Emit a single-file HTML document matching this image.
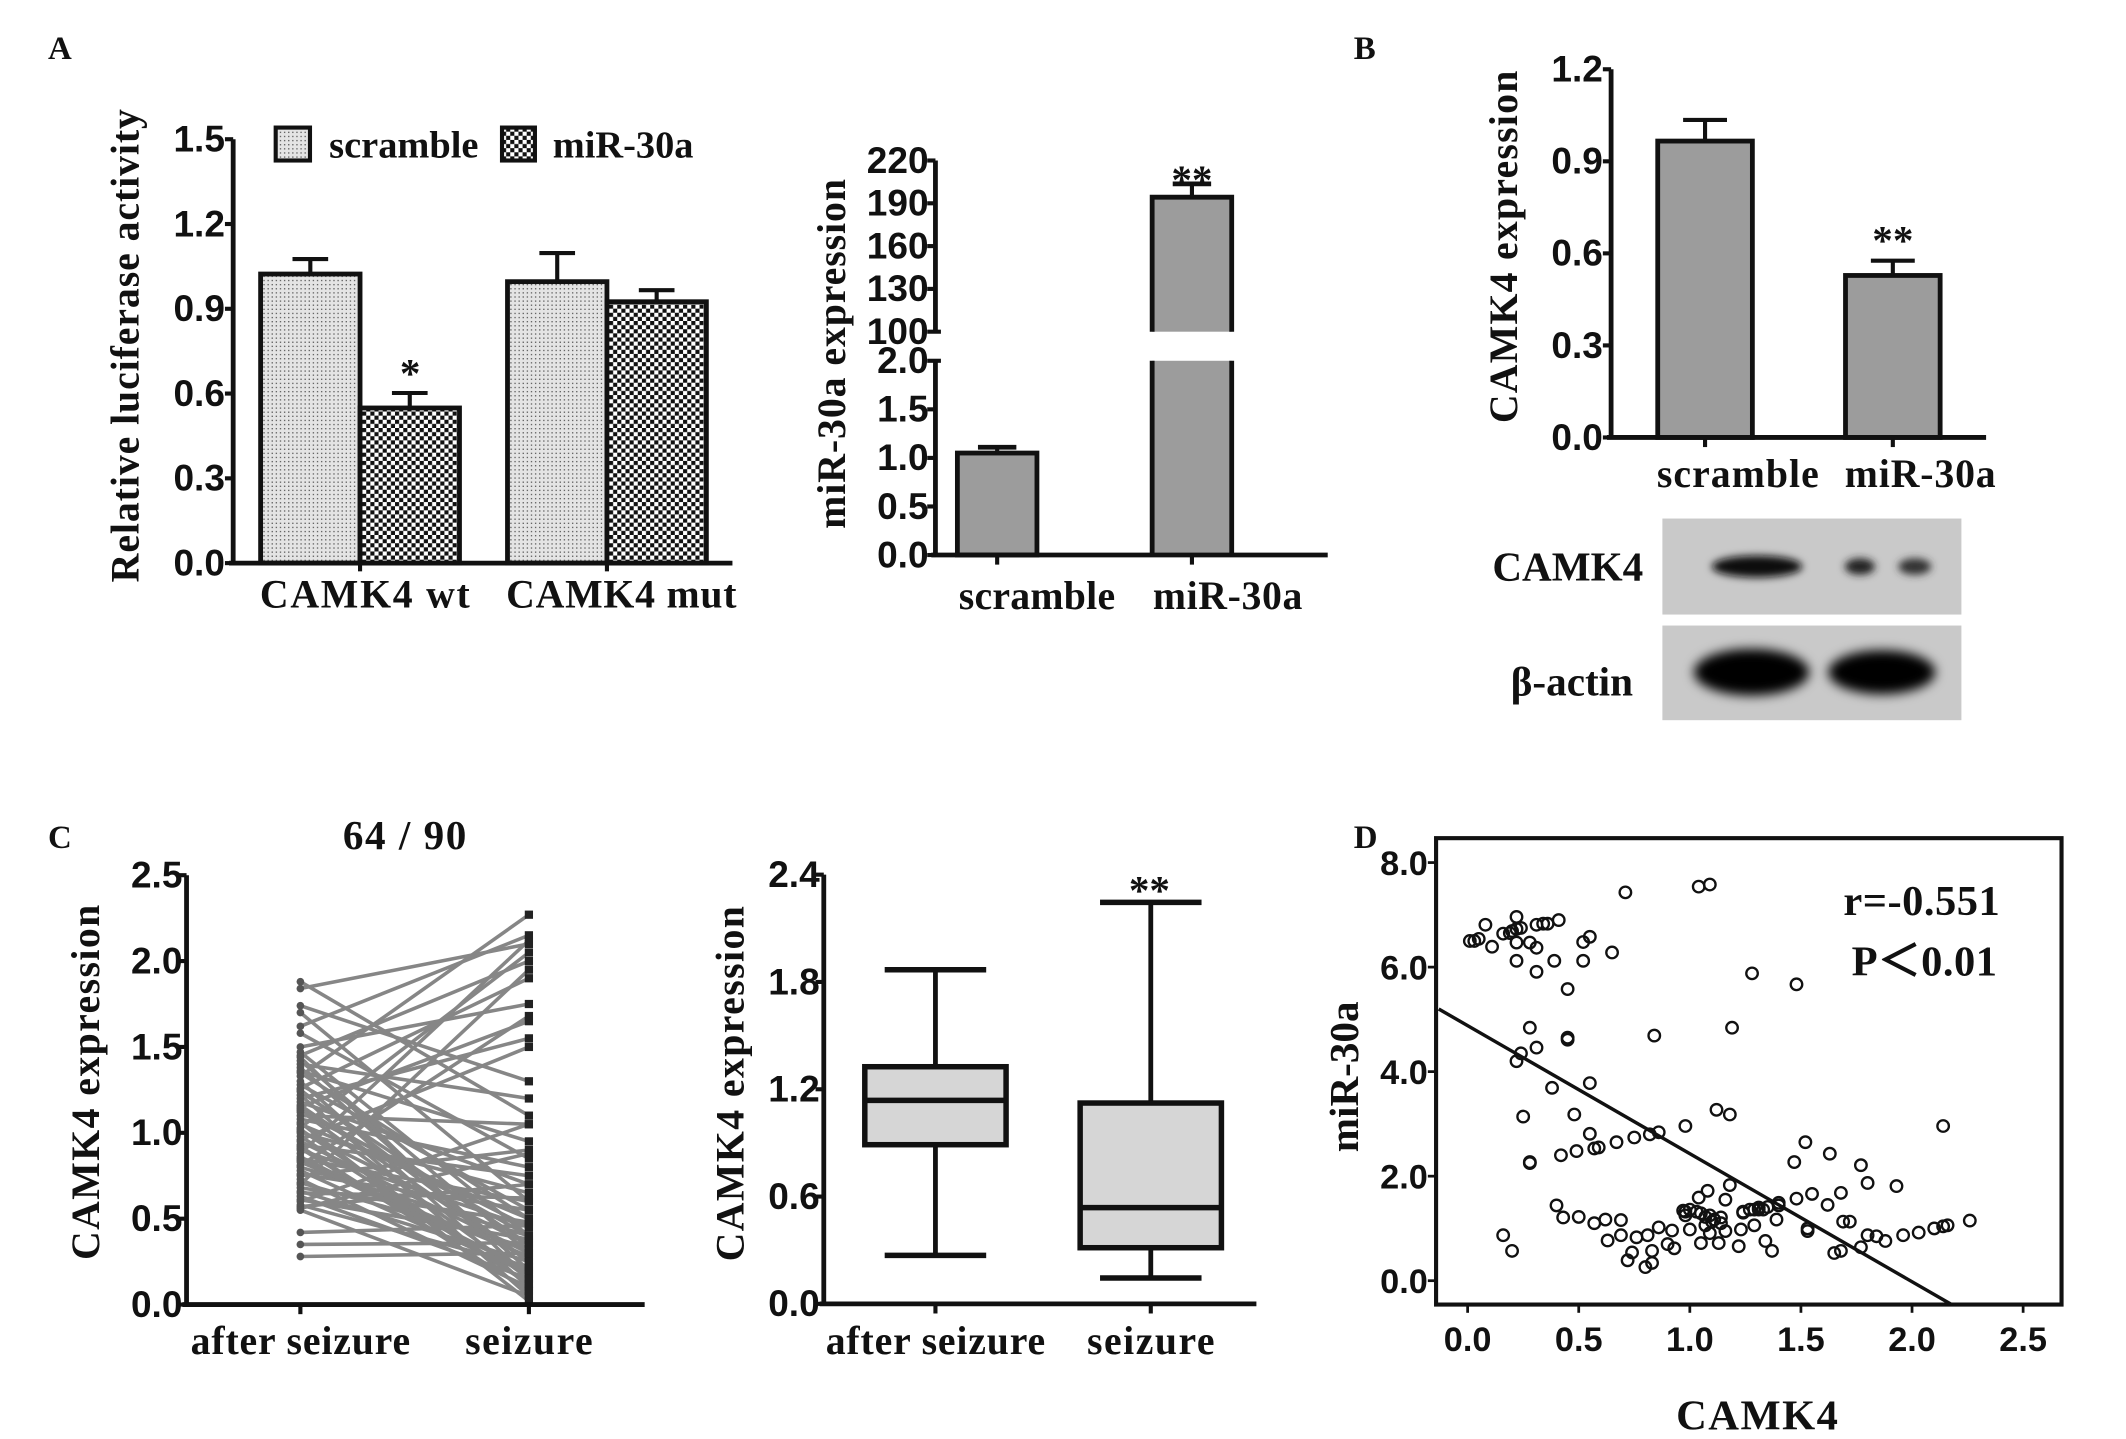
<!DOCTYPE html>
<html><head><meta charset="utf-8"><style>
html,body{margin:0;padding:0;background:#fff;}
svg{display:block;}
.t{font-family:"Liberation Sans",Arial,sans-serif;font-weight:bold;fill:#111;}
.s{font-family:"Liberation Serif","Times New Roman",serif;font-weight:bold;fill:#111;}
</style></head><body>
<svg id="fig" width="2126" height="1439" viewBox="0 0 1550 1049" preserveAspectRatio="none" xmlns="http://www.w3.org/2000/svg">
<defs>
<pattern id="dots" width="3" height="3" patternUnits="userSpaceOnUse"><rect width="3" height="3" fill="#e4e4e4"/><rect width="1" height="1" fill="#666"/></pattern>
<pattern id="check" width="6" height="6" patternUnits="userSpaceOnUse"><rect width="6" height="6" fill="#fff"/><rect width="3" height="3" fill="#111"/><rect x="3" y="3" width="3" height="3" fill="#111"/></pattern>
<filter id="blur" x="-30%" y="-50%" width="160%" height="200%"><feGaussianBlur stdDeviation="3"/></filter>
<filter id="blur2" x="-30%" y="-50%" width="160%" height="200%"><feGaussianBlur stdDeviation="4"/></filter>
</defs>
<rect width="1550" height="1049" fill="#fff"/>
<text class="s" x="35" y="43" font-size="24">A</text>
<text class="s" x="987" y="43" font-size="24">B</text>
<text class="s" x="35" y="618" font-size="24">C</text>
<text class="s" x="987" y="618" font-size="24">D</text>
<g id="pa1"></g>
<g id="pa2"></g>
<g id="pb"></g>
<g id="blot"></g>
<g id="pc1"></g>
<g id="pc2"></g>
<g id="pd"></g>
</svg>
<script>
// ---------- data ----------
const aCats = ["CAMK4 wt", "CAMK4 mut"];
const aScramble = [1.023, 0.996];
const aScrambleErr = [0.053, 0.101];
const aMir = [0.549, 0.925];
const aMirErr = [0.053, 0.041];
const aTicks = [0, 0.3, 0.6, 0.9, 1.2, 1.5];

const a2Cats = ["scramble", "miR-30a"];
const a2Vals = [1.05, 194.3];
const a2Err = [0.06, 9.3];
const a2LowTicks = [0, 0.5, 1.0, 1.5, 2.0];
const a2HighTicks = [100, 130, 160, 190, 220];

const bCats = ["scramble", "miR-30a"];
const bVals = [0.966, 0.528];
const bErr = [0.069, 0.048];
const bTicks = [0, 0.3, 0.6, 0.9, 1.2];

const cAfter = [1.88,1.84,1.74,1.70,1.62,1.58,1.50,1.47,1.45,1.42,
1.40,1.38,1.36,1.33,1.30,1.28,1.26,1.24,1.22,1.20,
1.18,1.16,1.15,1.13,1.12,1.10,1.08,1.06,1.05,1.03,
1.01,1.00,0.98,0.96,0.95,0.93,0.91,0.90,0.88,0.86,
0.85,0.83,0.81,0.80,0.78,0.76,0.75,0.73,0.71,0.70,
0.68,0.66,0.65,0.63,0.61,0.60,0.58,0.57,0.56,0.55,
0.42,0.35,0.28,1.44,1.35,1.25,1.14,1.02,0.92,0.84];
const cSeizure = [1.10,2.10,1.30,0.60,2.15,0.85,1.75,0.40,2.00,0.30,
1.20,0.20,0.95,2.27,0.10,0.55,1.90,0.35,0.05,1.55,
0.70,0.25,1.65,0.15,0.45,1.05,0.80,0.02,0.50,2.05,
0.35,0.65,0.12,1.50,0.30,0.75,0.08,0.45,2.12,0.20,
0.60,0.28,1.68,0.40,0.18,0.55,0.90,0.10,0.33,1.95,
0.48,0.25,0.62,0.15,0.38,1.05,0.22,0.70,0.88,0.05,
0.46,0.36,0.30,0.15,0.50,0.25,0.40,0.12,0.08,0.20];
const cTicks = [0, 0.5, 1.0, 1.5, 2.0, 2.5];

const boxCats = ["after seizure", "seizure"];
const boxMin = [0.271, 0.145];
const boxQ1 = [0.890, 0.314];
const boxMed = [1.138, 0.538];
const boxQ3 = [1.326, 1.123];
const boxMax = [1.868, 2.245];
const boxTicks = [0, 0.6, 1.2, 1.8, 2.4];

const dX = [0.01,0.03,0.05,0.08,0.11,0.16,0.19,0.20,0.22,0.22,0.24,0.22,0.22,0.28,0.31,0.31,0.34,0.36,0.41,0.31,0.39,0.45,0.52,0.55,0.52,0.65,0.71,1.04,1.09,1.28,1.48,
0.28,0.24,0.22,0.31,0.45,0.45,0.84,1.19,0.38,0.55,0.25,0.48,0.28,0.28,0.42,0.49,0.55,0.57,0.59,0.67,0.75,0.82,0.86,0.98,1.12,1.18,2.14,1.47,1.52,1.63,1.77,1.80,1.93,1.68,1.55,1.48,1.62,
0.16,0.20,0.40,0.43,0.50,0.57,0.62,0.63,0.69,0.69,0.76,0.72,0.74,0.80,0.83,0.83,0.81,0.86,0.90,0.93,0.92,0.97,1.00,1.04,1.08,1.05,1.07,1.09,1.13,1.16,1.18,1.16,1.22,1.23,1.24,1.29,1.34,1.37,1.31,1.40,1.39,1.53,1.53,1.65,1.68,1.69,1.72,1.77,1.80,1.84,1.88,1.96,2.03,2.10,2.14,2.16,2.26,
0.98,0.98,1.00,1.05,1.09,1.11,1.14,1.10,1.07,1.03,1.24,1.27,1.29,1.31,1.33,1.35,1.40,1.14];
const dY = [6.50,6.50,6.54,6.81,6.39,6.64,6.65,6.69,6.96,6.73,6.75,6.47,6.12,6.47,6.37,6.81,6.83,6.83,6.90,5.91,6.12,5.58,6.48,6.58,6.12,6.28,7.43,7.54,7.58,5.88,5.67,
4.84,4.35,4.20,4.46,4.65,4.61,4.69,4.84,3.69,3.78,3.14,3.18,2.27,2.25,2.40,2.48,2.81,2.53,2.55,2.65,2.74,2.80,2.84,2.96,3.27,3.18,2.96,2.27,2.65,2.43,2.21,1.87,1.81,1.68,1.66,1.57,1.45,
0.87,0.57,1.44,1.21,1.22,1.10,1.17,0.77,1.16,0.87,0.83,0.39,0.54,0.26,0.34,0.57,0.87,1.02,0.70,0.62,0.96,1.34,0.98,1.59,1.72,0.72,1.22,0.91,0.72,0.95,1.83,1.55,0.66,0.98,1.30,1.06,0.76,0.57,1.36,1.44,1.17,0.95,1.00,0.53,0.57,1.13,1.13,0.64,0.87,0.85,0.76,0.87,0.92,1.00,1.04,1.06,1.15,
1.32,1.25,1.36,1.29,1.25,1.17,1.21,1.13,1.06,1.32,1.32,1.36,1.36,1.40,1.36,1.41,1.49,1.10];
const dTicksX = [0, 0.5, 1.0, 1.5, 2.0, 2.5];
const dTicksY = [0, 2, 4, 6, 8];
const dReg = [4.88, -2.45];
const dStats = ["r=-0.551", "P\uFF1C0.01"];

// ---------- helpers ----------
const NS = "http://www.w3.org/2000/svg";
const TICK = 27, XL = 29, TITLE = 29;
function mk(tag, parent, attrs) {
  const e = document.createElementNS(NS, tag);
  for (const k in attrs) e.setAttribute(k, attrs[k]);
  parent.appendChild(e);
  return e;
}
function line(p, x1, y1, x2, y2, w, c) {
  return mk("line", p, {x1: x1, y1: y1, x2: x2, y2: y2, stroke: c || "#111", "stroke-width": w || 3});
}
function txt(p, x, y, s, cls, size, anchor) {
  const e = mk("text", p, {x: x, y: y, class: cls, "font-size": size, "text-anchor": anchor || "middle"});
  e.textContent = s;
  return e;
}
function fmt(v, d) { return v.toFixed(d); }

// ---------- Panel A left ----------
(function () {
  const g = document.getElementById("pa1");
  const X0 = 170, Y0 = 410.5, Y1 = 101.5;
  const y = v => Y0 - v / 1.5 * (Y0 - Y1);
  const groupX = [190, 370], bw = 72.5;
  const labelX = [266, 453];
  aCats.forEach((c, i) => {
    const bars = [[aScramble[i], aScrambleErr[i], "url(#dots)", "scramble"], [aMir[i], aMirErr[i], "url(#check)", "mir30a"]];
    bars.forEach((b, j) => {
      const x = groupX[i] + j * bw;
      const r = mk("rect", g, {x: x, y: y(b[0]), width: bw, height: Y0 - y(b[0]), fill: b[2], stroke: "#111", "stroke-width": 3.5});
      
      
      const e1 = line(g, x + bw / 2, y(b[0]), x + bw / 2, y(b[0] + b[1]), 3);
      
      
      const e2 = line(g, x + bw / 2 - 13, y(b[0] + b[1]), x + bw / 2 + 13, y(b[0] + b[1]), 3);
      
      
    });
    const lbl = txt(g, labelX[i], 443, c, "s", XL);
    lbl.setAttribute("textLength", i ? 168 : 153);
    
    
    const tk = line(g, groupX[i] + bw, Y0, groupX[i] + bw, Y0 + 6, 3);
    
    
  });
  const ax = line(g, X0, Y0, X0, Y1, 3.5);
  
  
  const xa = line(g, X0 - 3, Y0, 534, Y0, 3.5);
  
  
  aTicks.forEach(v => {
    const t = line(g, X0 - 6, y(v), X0, y(v), 3);
    
    
    const l = txt(g, X0 - 6, y(v) + 9, fmt(v, 1), "t", TICK, "end");
    
    
  });
  const star = txt(g, 299, 282, "*", "s", 30);
  
  
  const yt = txt(g, 0, 0, "Relative luciferase activity", "s", TITLE);
  yt.setAttribute("transform", "translate(101,252) rotate(-90)");
  yt.setAttribute("textLength", "345");
  
  
  const lg1 = mk("rect", g, {x: 201, y: 93, width: 25, height: 24, fill: "url(#dots)", stroke: "#111", "stroke-width": 3});
  
  
  const lt1 = txt(g, 240, 115, "scramble", "s", 28, "start");
  
  
  const lg2 = mk("rect", g, {x: 366, y: 93, width: 24, height: 24, fill: "url(#check)", stroke: "#111", "stroke-width": 3});
  
  
  const lt2 = txt(g, 403, 115, "miR-30a", "s", 28, "start");
  
  
})();

// ---------- Panel A right (broken axis) ----------
(function () {
  const g = document.getElementById("pa2");
  const X0 = 682, L0 = 404.6, L1 = 263, H0 = 241.8, H1 = 117;
  const yl = v => L0 - v / 2 * (L0 - L1);
  const yh = v => H0 - (v - 100) / 120 * (H0 - H1);
  const ys = v => v <= 2 ? yl(v) : yh(v);
  const bx = [698, 840], bw = 58;
  a2Cats.forEach((c, i) => {
    const v = a2Vals[i];
    if (v <= 2) {
      const r = mk("rect", g, {x: bx[i], y: yl(v), width: bw, height: L0 - yl(v), fill: "#9c9c9c", stroke: "#111", "stroke-width": 3.5});
      
      
    } else {
      const r1 = mk("rect", g, {x: bx[i], y: L1, width: bw, height: L0 - L1, fill: "#9c9c9c", stroke: "none"});
      
      
      const p1 = mk("path", g, {d: `M${bx[i]},${L0}V${L1}M${bx[i] + bw},${L0}V${L1}`, stroke: "#111", "stroke-width": 3.5, fill: "none"});
      
      
      const r2 = mk("rect", g, {x: bx[i], y: yh(v), width: bw, height: H0 - yh(v), fill: "#9c9c9c", stroke: "none"});
      
      
      const p2 = mk("path", g, {d: `M${bx[i]},${H0}V${yh(v)}H${bx[i] + bw}V${H0}`, stroke: "#111", "stroke-width": 3.5, fill: "none"});
      
      
    }
    const cx = bx[i] + bw / 2;
    const e1 = line(g, cx, ys(v), cx, ys(v + a2Err[i]), 3);
    
    
    const e2 = line(g, cx - 14, ys(v + a2Err[i]), cx + 14, ys(v + a2Err[i]), 3.5);
    
    
    const l = txt(g, [756, 895][i], 444, c, "s", XL);
    l.setAttribute("textLength", i ? 109 : 114);
    
    
    const tk = line(g, cx, L0, cx, L0 + 7, 3);
    
    
  });
  const a1 = line(g, X0, L0, X0, L1, 3.5);
  
  
  const a2 = line(g, X0, H0, X0, H1, 3.5);
  
  
  const xa = line(g, X0 - 3, L0, 968, L0, 3.5);
  
  
  a2LowTicks.forEach(v => {
    const t = line(g, X0 - 6, yl(v), X0 + (v === 2 ? 4 : 0), yl(v), 3);
    
    
    const l = txt(g, X0 - 5, yl(v) + 9, fmt(v, 1), "t", TICK, "end");
    
    
  });
  a2HighTicks.forEach(v => {
    const t = line(g, X0 - 6, yh(v), X0 + (v === 100 ? 4 : 0), yh(v), 3);
    
    
    const l = txt(g, X0 - 5, yh(v) + 9, String(v), "t", TICK, "end");
    
    
  });
  const st = txt(g, 869, 141, "**", "s", 30);
  
  
  const yt = txt(g, 0, 0, "miR-30a expression", "s", TITLE);
  yt.setAttribute("transform", "translate(616,258) rotate(-90)");
  yt.setAttribute("textLength", "255");
  
  
})();

// ---------- Panel B ----------
(function () {
  const g = document.getElementById("pb");
  const X0 = 1174.6, Y0 = 318.9, Y1 = 50.5;
  const y = v => Y0 - v / 1.2 * (Y0 - Y1);
  const bx = [1208.6, 1345.5], bw = 69;
  bCats.forEach((c, i) => {
    const r = mk("rect", g, {x: bx[i], y: y(bVals[i]), width: bw, height: Y0 - y(bVals[i]), fill: "#9c9c9c", stroke: "#111", "stroke-width": 3.5});
    
    
    const cx = bx[i] + bw / 2;
    const e1 = line(g, cx, y(bVals[i]), cx, y(bVals[i] + bErr[i]), 3);
    
    
    const e2 = line(g, cx - 16, y(bVals[i] + bErr[i]), cx + 16, y(bVals[i] + bErr[i]), 3);
    
    
    const l = txt(g, [1267, 1400][i], 355, c, "s", XL);
    l.setAttribute("textLength", i ? 110 : 118);
    
    
    const tk = line(g, cx, Y0, cx, Y0 + 7, 3);
    
    
  });
  const ax = line(g, X0, Y0, X0, Y1, 3.5);
  
  
  const xa = line(g, X0 - 3, Y0, 1448, Y0, 3.5);
  
  
  bTicks.forEach(v => {
    const t = line(g, X0 - 6, y(v), X0, y(v), 3);
    
    
    const l = txt(g, X0 - 6, y(v) + 9, fmt(v, 1), "t", TICK, "end");
    
    
  });
  const st = txt(g, 1380, 185, "**", "s", 30);
  
  
  const yt = txt(g, 0, 0, "CAMK4 expression", "s", TITLE);
  yt.setAttribute("transform", "translate(1106,180) rotate(-90)");
  yt.setAttribute("textLength", "257");
  
  
})();

// ---------- Western blot ----------
(function () {
  const g = document.getElementById("blot");
  const b1 = mk("rect", g, {x: 1212, y: 378, width: 218, height: 70, fill: "#c9c9c9"});
  
  
  const b2 = mk("rect", g, {x: 1212, y: 456, width: 218, height: 69, fill: "#c9c9c9"});
  
  
  const bands = [[1281, 413, 33, 8, "#111", "blur"], [1356, 413, 11, 6, "#222", "blur"], [1396, 413, 12, 6, "#333", "blur"],
                 [1277, 490, 42, 17, "#050505", "blur2"], [1372, 490, 39, 16, "#050505", "blur2"]];
  bands.forEach((b, i) => {
    const e = mk("ellipse", g, {cx: b[0], cy: b[1], rx: b[2], ry: b[3], fill: b[4], filter: "url(#" + b[5] + ")"});
    
    
  });
  const l1 = txt(g, 1143, 423, "CAMK4", "s", 30);
  
  
  const l2 = txt(g, 1146, 507, "\u03B2-actin", "s", 30);
  
  
})();

// ---------- Panel C left (paired lines) ----------
(function () {
  const g = document.getElementById("pc1");
  const X0 = 136, Y0 = 951, Y1 = 638;
  const y = v => Y0 - v / 2.5 * (Y0 - Y1);
  const xA = 219, xS = 385.6;
  const n = Math.min(cAfter.length, cSeizure.length);
  for (let i = 0; i < n; i++) {
    const l = line(g, xA, y(cAfter[i]), xS, y(cSeizure[i]), 2.6, "#868686");
    
    
  }
  for (let i = 0; i < n; i++) {
    const d = mk("circle", g, {cx: xA, cy: y(cAfter[i]), r: 2.8, fill: "#555"});
    
    
    const s = mk("rect", g, {x: xS - 3, y: y(cSeizure[i]) - 3, width: 6, height: 6, fill: "#222"});
    
    
  }
  const ax = line(g, X0, Y0, X0, Y1, 3.5);
  
  
  const xa = line(g, X0 - 3, Y0, 470, Y0, 3.5);
  
  
  cTicks.forEach(v => {
    const t = line(g, X0 - 6, y(v), X0, y(v), 3);
    
    
    const l = txt(g, X0 - 3, y(v) + 9, fmt(v, 1), "t", TICK, "end");
    
    
  });
  boxCats.forEach((c, i) => {
    const cx = [xA, xS][i];
    const tk = line(g, cx, Y0, cx, Y0 + 7, 3);
    
    
    const l = txt(g, cx, 987, c, "s", XL);
    l.setAttribute("textLength", i ? 93 : 160);
    
    
  });
  const ti = txt(g, 295, 619, "64 / 90", "s", 30);
  ti.setAttribute("textLength", "90");
  
  
  const yt = txt(g, 0, 0, "CAMK4 expression", "s", TITLE);
  yt.setAttribute("transform", "translate(72,789) rotate(-90)");
  yt.setAttribute("textLength", "259");
  
  
})();

// ---------- Panel C right (box plot) ----------
(function () {
  const g = document.getElementById("pc2");
  const X0 = 600.6, Y0 = 950.5, Y1 = 637.6;
  const y = v => Y0 - v / 2.4 * (Y0 - Y1);
  const cxs = [682, 839], bw = 103;
  boxCats.forEach((c, i) => {
    const cx = cxs[i];
    const w1 = line(g, cx, y(boxMax[i]), cx, y(boxQ3[i]), 3.5);
    
    
    const w2 = line(g, cx, y(boxQ1[i]), cx, y(boxMin[i]), 3.5);
    
    
    const c1 = line(g, cx - 37, y(boxMax[i]), cx + 37, y(boxMax[i]), 4);
    
    
    const c2 = line(g, cx - 37, y(boxMin[i]), cx + 37, y(boxMin[i]), 4);
    
    
    const b = mk("rect", g, {x: cx - bw / 2, y: y(boxQ3[i]), width: bw, height: y(boxQ1[i]) - y(boxQ3[i]), fill: "#d6d6d6", stroke: "#111", "stroke-width": 4});
    
    
    const m = line(g, cx - bw / 2, y(boxMed[i]), cx + bw / 2, y(boxMed[i]), 4);
    
    
    const tk = line(g, cx, Y0, cx, Y0 + 7, 3);
    
    
    const l = txt(g, cx, 987, c, "s", XL);
    l.setAttribute("textLength", i ? 93 : 160);
    
    
  });
  const ax = line(g, X0, Y0, X0, Y1, 3.5);
  
  
  const xa = line(g, X0 - 3, Y0, 916, Y0, 3.5);
  
  
  boxTicks.forEach(v => {
    const t = line(g, X0 - 6, y(v), X0, y(v), 3);
    
    
    const l = txt(g, X0 - 3, y(v) + 9, fmt(v, 1), "t", TICK, "end");
    
    
  });
  const st = txt(g, 838, 659, "**", "s", 30);
  
  
  const yt = txt(g, 0, 0, "CAMK4 expression", "s", TITLE);
  yt.setAttribute("transform", "translate(542,790) rotate(-90)");
  yt.setAttribute("textLength", "259");
  
  
})();

// ---------- Panel D (scatter) ----------
(function () {
  const g = document.getElementById("pd");
  const FX0 = 1047, FX1 = 1503, FY0 = 611, FY1 = 951;
  const x = v => 1070 + v * 162;
  const y = v => 933.6 - v * 38.1;
  const fr = mk("rect", g, {x: FX0, y: FY0, width: FX1 - FX0, height: FY1 - FY0, fill: "none", stroke: "#111", "stroke-width": 3});
  
  
  dTicksX.forEach(v => {
    const t = line(g, x(v), FY1, x(v), FY1 + 6, 2);
    
    
    const l = txt(g, x(v), 985, fmt(v, 1), "t", 25);
    
    
  });
  dTicksY.forEach(v => {
    const t = line(g, FX0 - 6, y(v), FX0, y(v), 2);
    
    
    const l = txt(g, FX0 - 6, y(v) + 9, fmt(v, 1), "t", 25, "end");
    
    
  });
  const xs = -0.13, xe = 2.18;
  const rl = line(g, x(xs), y(dReg[0] + dReg[1] * xs), x(xe), y(dReg[0] + dReg[1] * xe), 2.5);
  
  
  const n = Math.min(dX.length, dY.length);
  for (let i = 0; i < n; i++) {
    const c = mk("circle", g, {cx: x(dX[i]), cy: y(dY[i]), r: 4.2, fill: "none", stroke: "#111", "stroke-width": 1.7});
    
    
  }
  const s1 = txt(g, 1401, 667, dStats[0], "s", 31);
  s1.setAttribute("textLength", "114");
  
  
  const s2 = txt(g, 1403, 711, dStats[1], "s", 31);
  s2.setAttribute("font-family", '"Liberation Serif","Noto Serif CJK SC",serif');
  s2.setAttribute("textLength", "106");
  
  
  const xt = txt(g, 1281, 1042, "CAMK4", "s", 31);
  xt.setAttribute("textLength", "118");
  
  
  const yt = txt(g, 0, 0, "miR-30a", "s", 30);
  yt.setAttribute("transform", "translate(990,785) rotate(-90)");
  
  
})();
</script>
</body></html>
